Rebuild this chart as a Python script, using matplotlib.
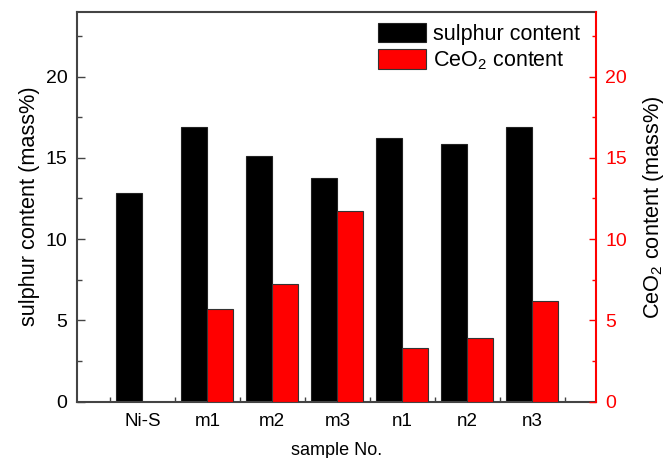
import matplotlib
matplotlib.use("Agg")
import matplotlib.pyplot as plt
import numpy as np
from matplotlib.ticker import MultipleLocator, FixedLocator

plt.rcParams['font.family'] = ['Liberation Sans', 'DejaVu Sans']
plt.rcParams['mathtext.fontset'] = 'custom'
plt.rcParams['mathtext.rm'] = 'Liberation Sans'

samples = ["Ni-S", "m1", "m2", "m3", "n1", "n2", "n3"]
sulphur = [12.86, 16.93, 15.12, 13.75, 16.2, 15.86, 16.93]
ceo2 = [0.0, 5.70, 7.24, 11.71, 3.29, 3.91, 6.19]

fig = plt.figure(figsize=(6.66, 4.58), dpi=100)
ax = fig.add_axes([77.3/666, 1-401.5/458, (595.5-77.3)/666, (401.5-11.7)/458])
ax2 = ax.twinx()

x = np.arange(len(samples))
w = 0.4
b1 = ax.bar(x - w/2, sulphur, w, color='black', edgecolor='#222222', linewidth=0.8, label='sulphur content')
b2 = ax2.bar(x + w/2, ceo2, w, color='#ff0000', edgecolor='#333333', linewidth=0.8,
             label=r'CeO$_\mathregular{2}$ content')

for a in (ax, ax2):
    a.set_ylim(0, 24)
    a.yaxis.set_major_locator(MultipleLocator(5))
    a.yaxis.set_minor_locator(MultipleLocator(2.5))
    a.set_yticks([0, 5, 10, 15, 20])
ax.set_xlim(-1.0, 6.97)
ax.set_xticks(x)
ax.set_xticklabels(samples)
ax.xaxis.set_minor_locator(FixedLocator(list(np.arange(-0.5, 7, 1.0))))

spc = '#444444'
for s in ['top', 'left', 'bottom']:
    ax.spines[s].set_color(spc)
    ax.spines[s].set_linewidth(1.5)
ax.spines['right'].set_visible(False)
for s in ['top', 'left', 'bottom']:
    ax2.spines[s].set_visible(False)
ax2.spines['right'].set_color('#ff0000')
ax2.spines['right'].set_linewidth(1.5)

ax.tick_params(axis='x', which='major', length=0, pad=8, labelsize=13.5)
ax.tick_params(axis='x', which='minor', direction='in', length=3.5, width=1.0, color=spc)
ax.tick_params(axis='y', which='major', direction='in', length=6, width=1.0, color=spc, pad=7, labelsize=14)
ax.tick_params(axis='y', which='minor', direction='in', length=3.5, width=1.0, color=spc)
ax2.tick_params(axis='y', which='major', direction='in', length=5, width=1.0, color='#ff0000',
                labelcolor='#ff0000', pad=7, labelsize=14)
ax2.tick_params(axis='y', which='minor', direction='in', length=3, width=1.0, color='#ff0000')

ax.set_xlabel('sample No.', fontsize=13, labelpad=9)
ax.set_ylabel('sulphur content (mass%)', fontsize=15.7, labelpad=4)
ax2.set_ylabel(r'CeO$_\mathregular{2}$ content (mass%)', fontsize=15.7, labelpad=10)

leg = fig.legend(handles=[b1, b2], loc='upper left', bbox_to_anchor=(378/666, 1-23/458),
                 frameon=False, fontsize=15.5, borderpad=0, borderaxespad=0,
                 handlelength=2.25, handleheight=1.0, handletextpad=0.3, labelspacing=0.2)

fig.savefig('out.png', dpi=100)
